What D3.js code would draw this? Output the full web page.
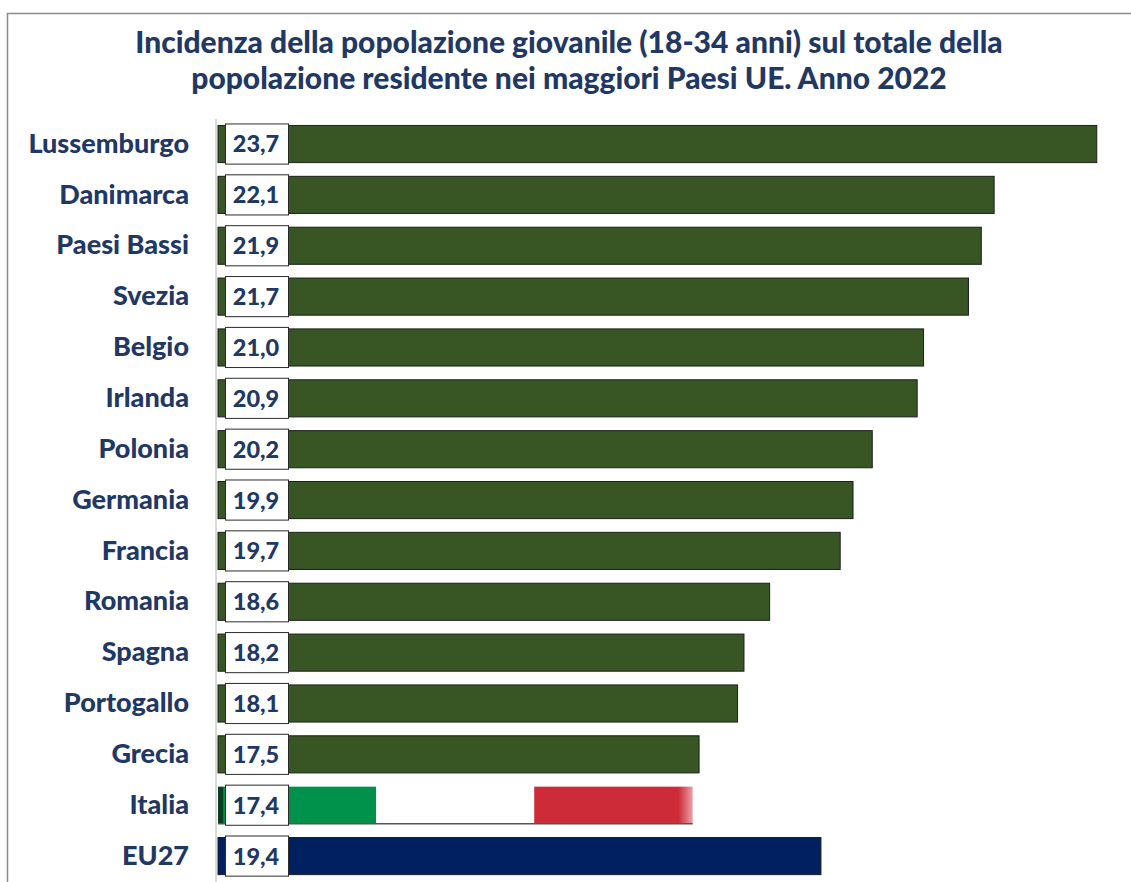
<!DOCTYPE html>
<html>
<head>
<meta charset="utf-8">
<script src="https://cdn.jsdelivr.net/npm/d3@7"></script>
<style>
  body { margin: 0; background: #fff; }
  text { font-family: Lato, "Open Sans", sans-serif; font-weight: 900; }
</style>
</head>
<body>
<div id="chart"></div>
<script>
// data
var countries = ["Lussemburgo", "Danimarca", "Paesi Bassi", "Svezia", "Belgio", "Irlanda", "Polonia",
                 "Germania", "Francia", "Romania", "Spagna", "Portogallo", "Grecia", "Italia", "EU27"];
var values = [23.7, 22.1, 21.9, 21.7, 21.0, 20.9, 20.2, 19.9, 19.7, 18.6, 18.2, 18.1, 17.5, 17.4, 19.4];
var titleLines = ["Incidenza della popolazione giovanile (18-34 anni) sul totale della",
                  "popolazione residente nei maggiori Paesi UE. Anno 2022"];
var xDomain = [10, 24];

var data = countries.map((c, i) => ({ country: c, value: values[i] }));

var width = 1131, height = 882;
var navy = "#1f3864";

var svg = d3.select("#chart")
            .append("svg")
            .attr("width", width)
            .attr("height", height);

// chart frame
svg.append("rect")
   .attr("x", 7.5).attr("y", 13.5)
   .attr("width", 1140).attr("height", 900)
   .attr("fill", "none")
   .attr("stroke", "#8c8c8c")
   .attr("stroke-width", 1.5);

// title
svg.append("text")
   .attr("x", 569)
   .attr("text-anchor", "middle")
   .style("fill", navy)
   .style("font-size", "30px")
   .selectAll("tspan")
   .data(titleLines)
   .enter().append("tspan")
   .attr("x", 569)
   .attr("y", (d, i) => 53 + i * 36)
   .text(d => d);

// scales
var x = d3.scaleLinear()
          .domain(xDomain)
          .range([218, 1116]);

var y = d3.scaleBand()
          .domain(countries)
          .range([118.6, 881.5])
          .paddingInner(0.27)
          .paddingOuter(0.135);

// flag gradient for Italia
var defs = svg.append("defs");
var grad = defs.append("linearGradient").attr("id", "flag");
[["0%", "#0b3d1f"], ["1%", "#0b3d1f"], ["1.2%", "#00924a"], ["33.3%", "#00924a"], ["33.4%", "#ffffff"],
 ["66.6%", "#ffffff"], ["66.7%", "#cd2b37"], ["97%", "#cd2b37"], ["100%", "#eaa0a6"]]
  .forEach(s => grad.append("stop").attr("offset", s[0]).attr("stop-color", s[1]));

function barFill(d) {
  if (d.country == "Italia") return "url(#flag)";
  if (d.country == "EU27") return "#002060";
  return "#375623";
}

// bars
svg.selectAll(".bar")
   .data(data)
   .enter().append("rect")
   .attr("class", "bar")
   .attr("x", x(xDomain[0]))
   .attr("y", d => y(d.country))
   .attr("width", d => x(d.value) - x(xDomain[0]))
   .attr("height", y.bandwidth())
   .style("fill", barFill)
   .style("stroke", d => d.country == "Italia" ? "none" : "#1e1e1e")
   .style("stroke-width", 1);

// grey shadow line under the Italian bar
var it = data.find(d => d.country == "Italia");
svg.append("line")
   .attr("x1", x(xDomain[0])).attr("x2", x(it.value))
   .attr("y1", y("Italia") + y.bandwidth()).attr("y2", y("Italia") + y.bandwidth())
   .attr("stroke", "#555").attr("stroke-width", 1.5);

// axis line
svg.append("g")
   .attr("transform", "translate(216,0)")
   .call(d3.axisLeft(y).tickSize(0).tickPadding(27))
   .call(g => g.select(".domain").attr("stroke", "#d9d9d9").attr("stroke-width", 2)
               .attr("d", "M0,119V882"))
   .selectAll("text")
   .style("fill", navy)
   .style("font-size", "27px")
   .style("font-family", "Lato, 'Open Sans', sans-serif")
   .style("font-weight", "900");

// value boxes
var boxes = svg.selectAll(".lbl")
   .data(data)
   .enter().append("g")
   .attr("class", "lbl")
   .attr("transform", d => "translate(225," + y(d.country) + ")");

boxes.append("rect")
   .attr("x", 0.5)
   .attr("y", -1.5)
   .attr("width", 63)
   .attr("height", y.bandwidth() + 3)
   .attr("fill", "#fff")
   .attr("stroke", "#2b2b2b")
   .attr("stroke-width", 1);

boxes.append("text")
   .attr("x", 31)
   .attr("y", y.bandwidth() / 2)
   .attr("dy", "0.36em")
   .attr("text-anchor", "middle")
   .style("fill", navy)
   .style("font-size", "23.5px")
   .text(d => d3.format(".1f")(d.value).replace(".", ","));
</script>
</body>
</html>
